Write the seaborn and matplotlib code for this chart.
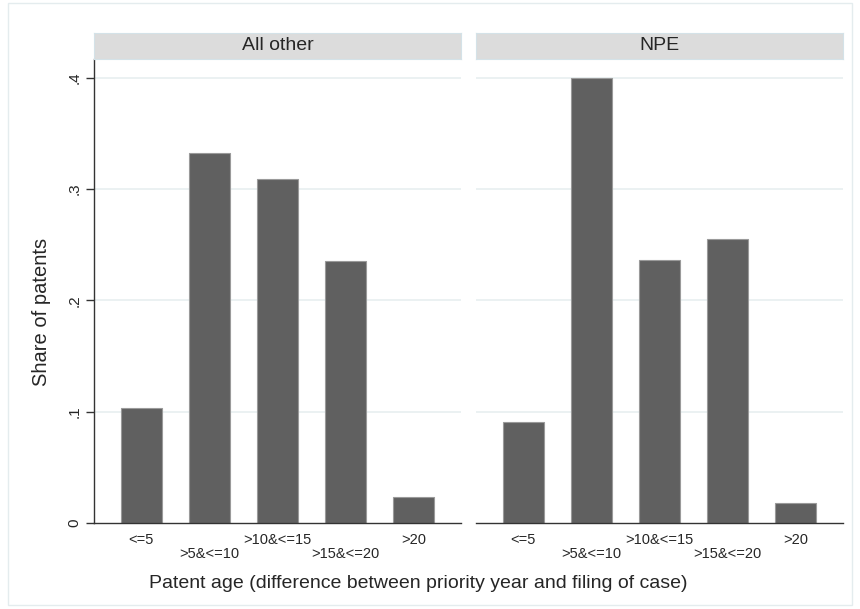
import pandas as pd
import numpy as np
import matplotlib
matplotlib.use('Agg')
import matplotlib.pyplot as plt
import seaborn as sns

# values
age_groups = ['<=5', '>5&<=10', '>10&<=15', '>15&<=20', '>20']
share_all_other = [0.103, 0.332, 0.309, 0.235, 0.023]
share_npe = [0.091, 0.400, 0.236, 0.255, 0.018]
panel_names = ['All other', 'NPE']
y_ticks = [0, 0.1, 0.2, 0.3, 0.4]
y_tick_labels = ['0', '.1', '.2', '.3', '.4']

df = pd.DataFrame({
    'group': age_groups * 2,
    'share': share_all_other + share_npe,
    'panel': [panel_names[0]] * 5 + [panel_names[1]] * 5,
})

sns.set_style('white')
plt.rcParams['font.family'] = ['Liberation Sans', 'DejaVu Sans']

fig = plt.figure(figsize=(8.6, 6.09), dpi=100)
W, H = 860, 609

def fx(px):
    return px / W

def fy(py):
    return 1 - py / H

# outer light frame (Stata graph region)
fig.patches.append(plt.Rectangle((fx(8), fy(605)), fx(844), (605 - 3) / H,
                                 transform=fig.transFigure, fill=False,
                                 edgecolor='#e4ecee', linewidth=1))

panel_left = [94, 476]
panel_w = 367
ax_top, ax_bot = 59, 523
strip_top = 33
grid_col = '#e6eeef'
axis_col = '#333333'

for i, name in enumerate(panel_names):
    ax = fig.add_axes([fx(panel_left[i]), fy(ax_bot), fx(panel_w), (ax_bot - ax_top) / H])
    sub = df[df.panel == name]
    sns.barplot(data=sub, x='group', y='share', order=age_groups, ax=ax,
                color='#606060', saturation=1, width=0.6,
                edgecolor='#9a9a9a', linewidth=0.8, errorbar=None)
    ax.set_xlim(-0.69, 4.69)
    ax.set_ylim(0, 0.4169)
    for v in y_ticks[1:]:
        ax.axhline(v, color=grid_col, lw=1.1, zorder=0)
    ax.set_axisbelow(True)
    for s in ['top', 'right']:
        ax.spines[s].set_visible(False)
    ax.spines['bottom'].set_color(axis_col)
    ax.spines['bottom'].set_linewidth(1)
    # staggered x labels
    ax.set_xticks([0, 2, 4])
    ax.set_xticklabels([age_groups[0], age_groups[2], age_groups[4]])
    ax.set_xticks([1, 3], minor=True)
    ax.set_xticklabels([age_groups[1], age_groups[3]], minor=True)
    ax.tick_params(axis='x', which='major', length=0, pad=7, labelsize=10.5)
    ax.tick_params(axis='x', which='minor', length=0, pad=17, labelsize=10.5)
    ax.set_xlabel('')
    ax.set_ylabel('')
    if i == 0:
        ax.spines['left'].set_color(axis_col)
        ax.spines['left'].set_linewidth(1)
        ax.set_yticks(y_ticks)
        ax.set_yticklabels(y_tick_labels, rotation=90, va='center')
        ax.tick_params(axis='y', length=6, width=1, color=axis_col,
                       labelsize=11, pad=3, left=True)
    else:
        ax.spines['left'].set_visible(False)
        ax.set_yticks([])

    # facet header strip
    sax = fig.add_axes([fx(panel_left[i]), fy(ax_top), fx(panel_w), (ax_top - strip_top) / H])
    sax.set_facecolor('#dcdcdc')
    sax.set_xticks([])
    sax.set_yticks([])
    for s in sax.spines.values():
        s.set_color('#d4e2e8')
        s.set_linewidth(0.8)
    sax.text(0.5, 0.5, name, ha='center', va='center', fontsize=14, transform=sax.transAxes)

fig.text(fx(418), fy(584), 'Patent age (difference between priority year and filing of case)',
         ha='center', va='center', fontsize=14)
fig.text(fx(42), fy(312), 'Share of patents', rotation=90,
         ha='center', va='center', fontsize=14.5)

plt.savefig('out.png', dpi=100)
